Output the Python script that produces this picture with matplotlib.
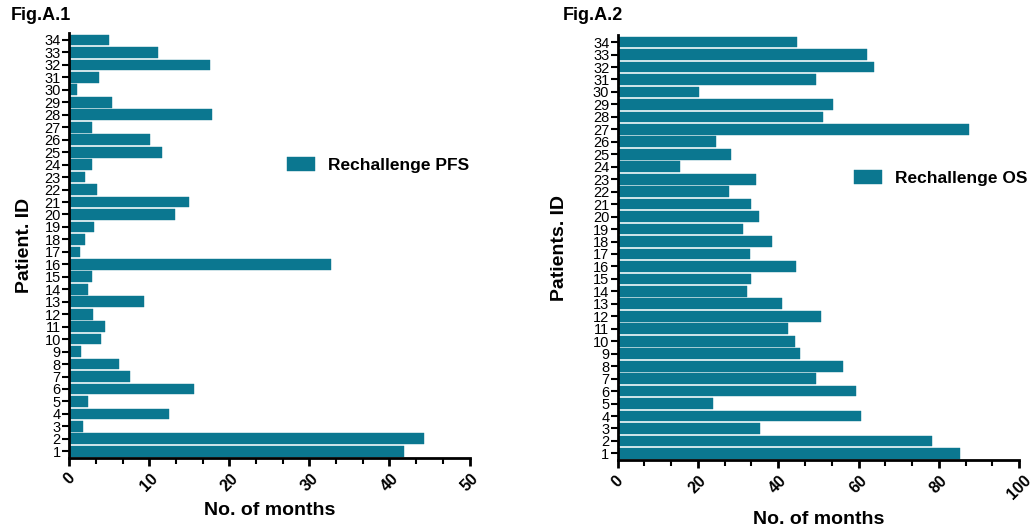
import matplotlib.pyplot as plt
from matplotlib.ticker import MultipleLocator, AutoMinorLocator

plt.rcParams['font.family'] = ['Liberation Sans', 'DejaVu Sans']

patients = list(range(1, 35))

pfs_months = [41.8, 44.3, 1.7, 12.5, 2.3, 15.6, 7.6, 6.2, 1.5, 4.0,
              4.5, 3.0, 9.3, 2.4, 2.8, 32.7, 1.4, 2.0, 3.1, 13.2,
              15.0, 3.5, 2.0, 2.9, 11.6, 10.1, 2.9, 17.8, 5.4, 1.0,
              3.7, 17.6, 11.1, 5.0]

os_months = [85.2, 78.4, 35.4, 60.6, 23.8, 59.4, 49.4, 56.1, 45.4, 44.3,
             42.4, 50.7, 40.9, 32.1, 33.1, 44.5, 33.0, 38.5, 31.1, 35.3,
             33.1, 27.7, 34.5, 15.6, 28.2, 24.5, 87.5, 51.2, 53.7, 20.2,
             49.4, 63.9, 62.2, 44.6]

bar_color = '#0b7790'


def draw_panel(ax, values, xmax, xstep, ylabel, ypad, legend_label, legend_pos):
    bars = ax.barh(patients, values, height=0.86, color=bar_color,
                   edgecolor=bar_color, linewidth=0.3, label=legend_label)
    ax.set_xlim(0, xmax)
    ax.set_ylim(0.45, 34.55)
    ax.set_yticks(patients)
    ax.set_yticklabels([str(p) for p in patients], fontsize=10.5)
    ax.xaxis.set_major_locator(MultipleLocator(xstep))
    ax.xaxis.set_minor_locator(AutoMinorLocator(3))
    for lab in ax.get_xticklabels():
        lab.set_rotation(45)
        lab.set_fontweight('bold')
        lab.set_fontsize(11.5)
    ax.spines['top'].set_visible(False)
    ax.spines['right'].set_visible(False)
    ax.spines['left'].set_linewidth(2)
    ax.spines['bottom'].set_linewidth(2)
    ax.tick_params(axis='y', length=5, width=1.5, pad=1)
    ax.tick_params(axis='x', which='major', length=6, width=2, pad=3)
    ax.tick_params(axis='x', which='minor', length=4, width=1.5)
    ax.set_xlabel('No. of months', fontsize=14, fontweight='bold', labelpad=6)
    ax.set_ylabel(ylabel, fontsize=14, fontweight='bold', labelpad=ypad)
    leg = ax.legend(handles=[bars], loc='center left', bbox_to_anchor=legend_pos,
                    frameon=False, fontsize=12.5, handlelength=1.6, handleheight=0.9,
                    handletextpad=0.75)
    for t in leg.get_texts():
        t.set_fontweight('bold')


fig = plt.figure(figsize=(10.32, 5.26), dpi=100)

ax1 = fig.add_axes([0.067, 0.129, 0.388, 0.808])
draw_panel(ax1, pfs_months, 50, 10, 'Patient. ID', 8,
           'Rechallenge PFS', (0.505, 0.69))

ax2 = fig.add_axes([0.5985, 0.125, 0.389, 0.808])
draw_panel(ax2, os_months, 100, 20, 'Patients. ID', 18,
           'Rechallenge OS', (0.55, 0.665))

fig.text(0.01, 0.97, 'Fig.A.1', fontsize=13, fontweight='bold', va='center')
fig.text(0.545, 0.97, 'Fig.A.2', fontsize=13, fontweight='bold', va='center')

fig.savefig('out.png', dpi=100)
